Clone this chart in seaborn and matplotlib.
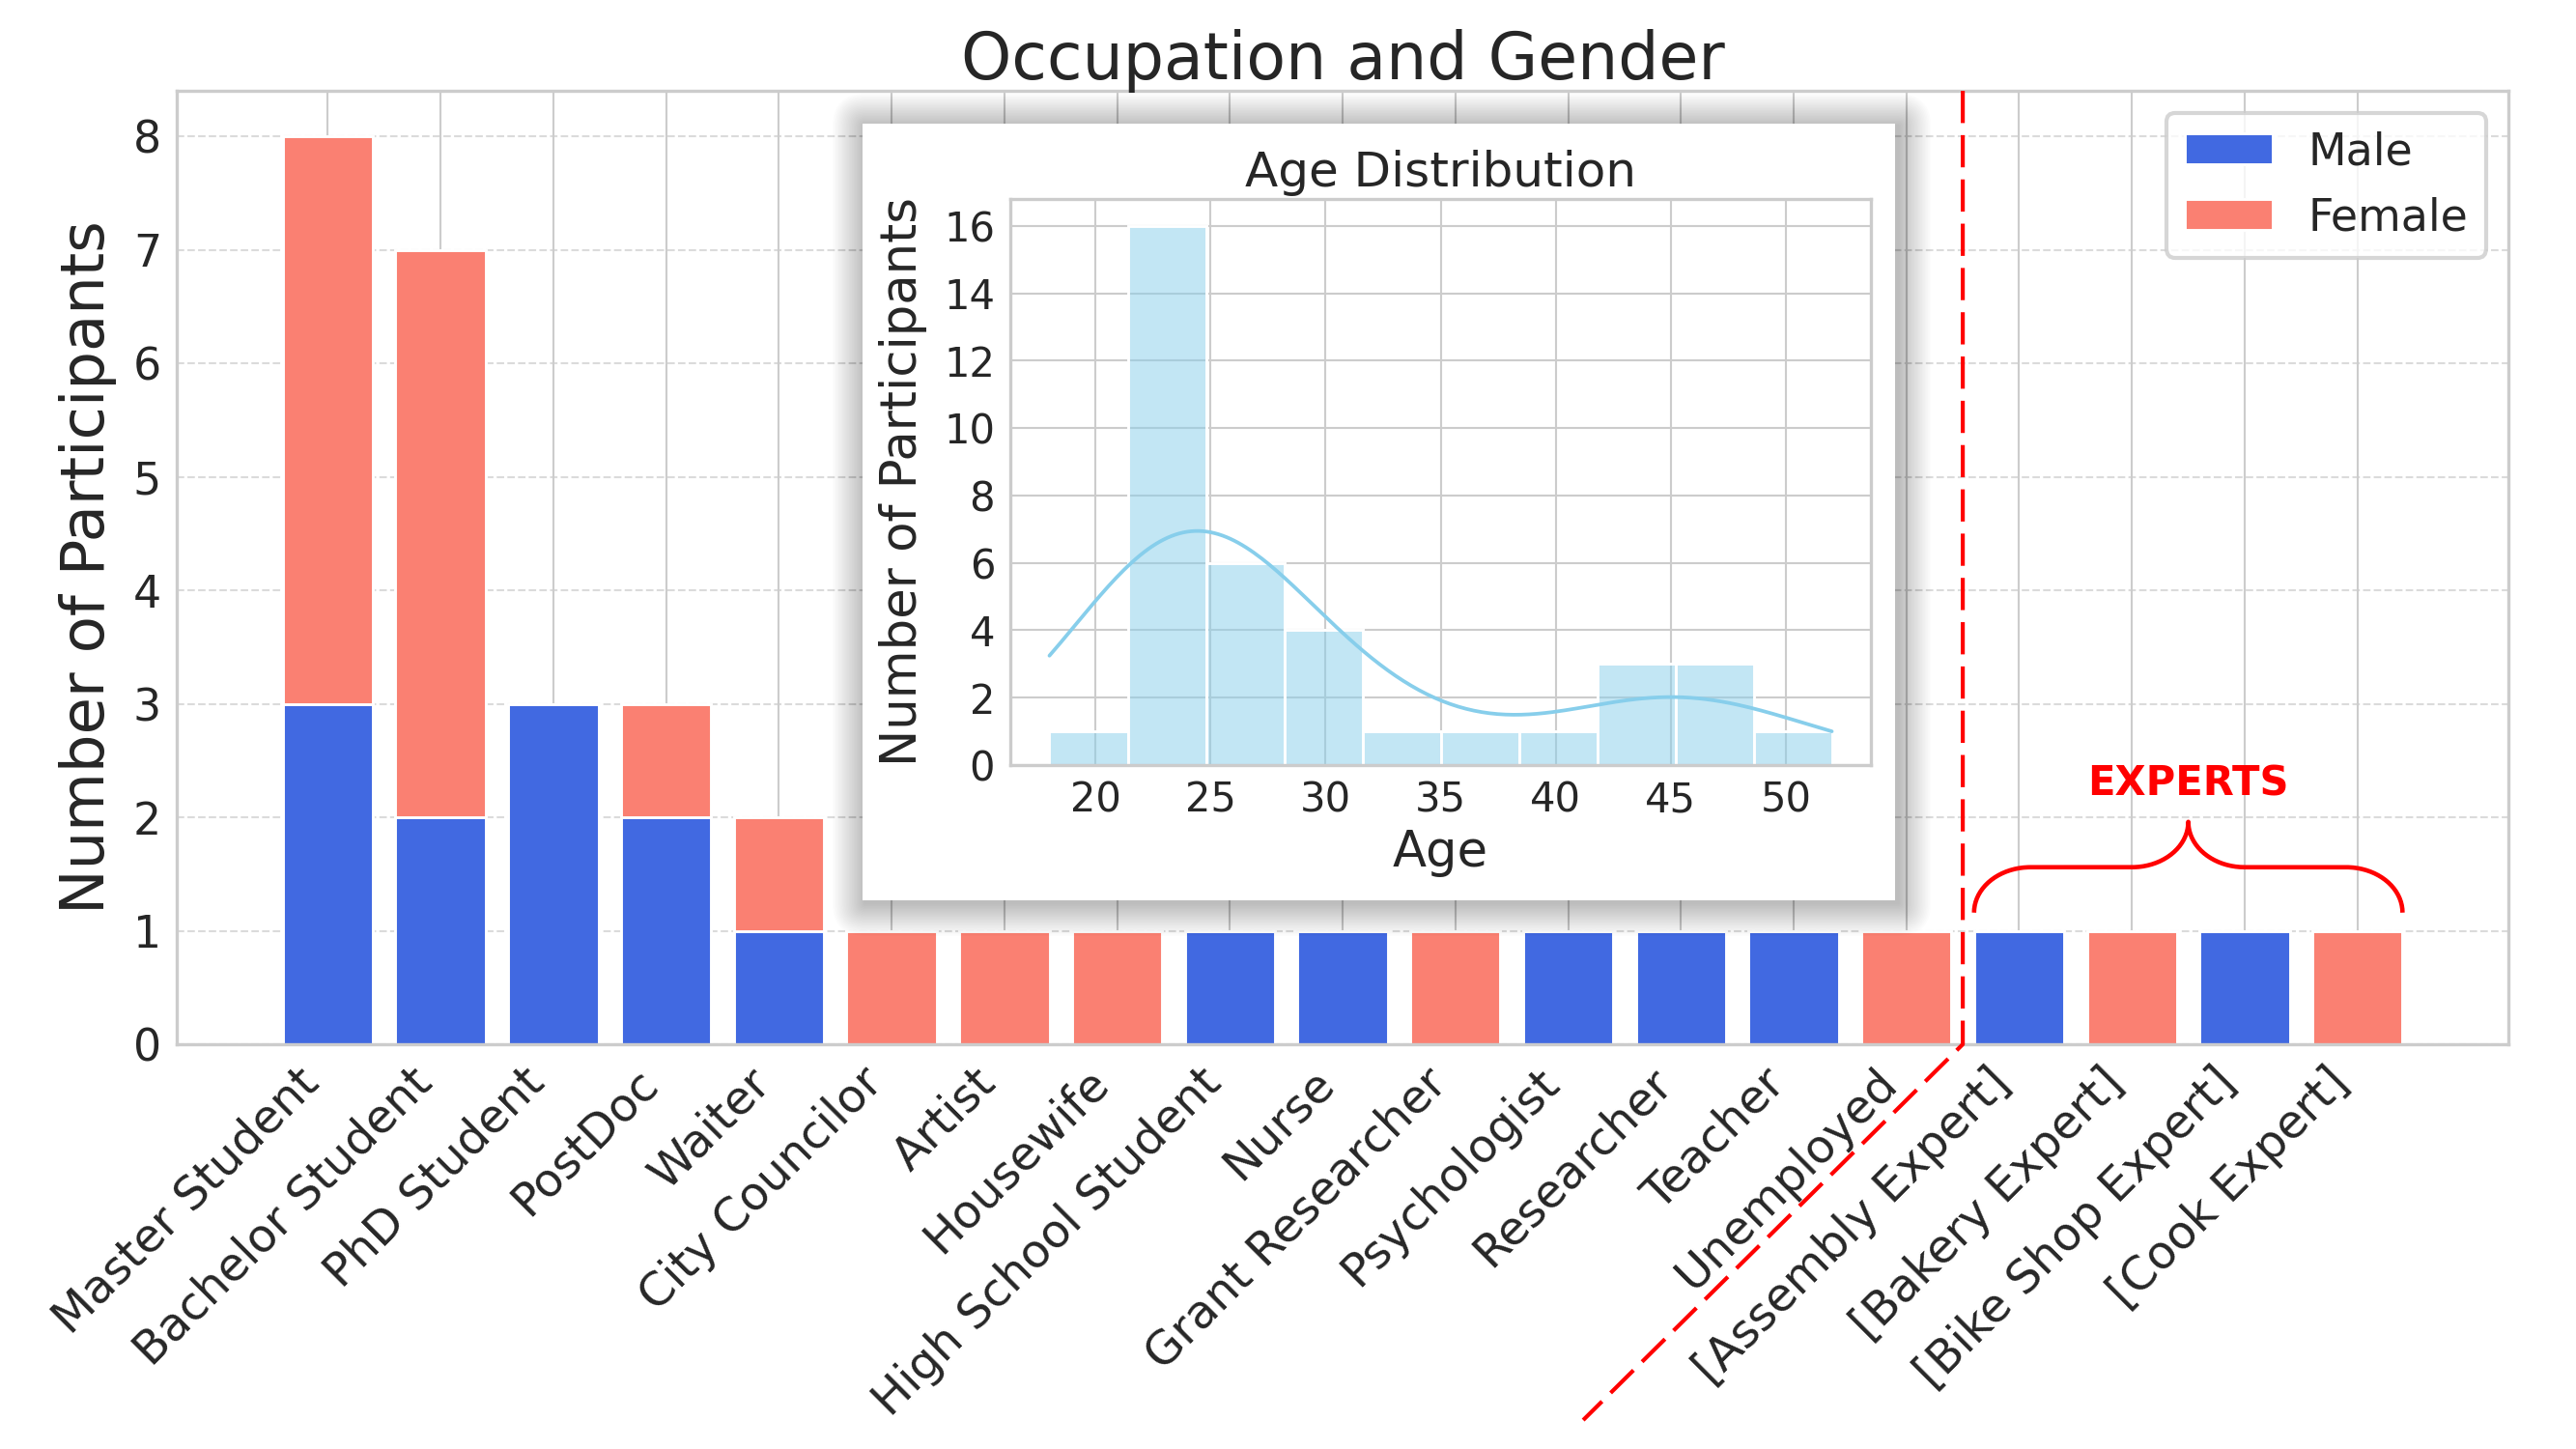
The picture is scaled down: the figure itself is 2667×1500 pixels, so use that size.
import numpy as np
import matplotlib
matplotlib.use("Agg")
import matplotlib.pyplot as plt
from matplotlib.ticker import MultipleLocator
import seaborn as sns
from matplotlib.patches import FancyBboxPatch, Rectangle

# ---------------- data ----------------
occupations = ["Master Student", "Bachelor Student", "PhD Student", "PostDoc", "Waiter",
               "City Councilor", "Artist", "Housewife", "High School Student", "Nurse",
               "Grant Researcher", "Psychologist", "Researcher", "Teacher", "Unemployed",
               "[Assembly Expert]", "[Bakery Expert]", "[Bike Shop Expert]", "[Cook Expert]"]
male_counts = [3, 2, 3, 2, 1, 0, 0, 0, 1, 1, 0, 1, 1, 1, 0, 1, 0, 1, 0]
female_counts = [5, 5, 0, 1, 1, 1, 1, 1, 0, 0, 1, 0, 0, 0, 1, 0, 1, 0, 1]
n_experts = 4

ages = [18,
        22, 22, 22, 22, 23, 23, 23, 23, 23, 23, 24, 24, 24, 24, 24, 24,
        25, 25, 26, 26, 27, 28,
        29, 30, 30, 31,
        32, 36, 41,
        43, 44, 45,
        46, 47, 48,
        52]

# ---------------- style ----------------
sns.set_theme(style="whitegrid", rc={
    "axes.linewidth": 0.8,
    "axes.edgecolor": ".8",
    "grid.color": ".8",
    "grid.linewidth": 0.5,
    "xtick.major.size": 0,
    "ytick.major.size": 0,
    "xtick.major.pad": 3.8,
    "ytick.major.pad": 3.8,
    "legend.frameon": True,
})
plt.rcParams["font.family"] = ["DejaVu Sans"]

W, H, DPI = 8.89, 5.0, 300
fig = plt.figure(figsize=(W, H), dpi=DPI)
ax = fig.add_axes([0.0686, 0.2793, 0.9052, 0.658], zorder=0)

x = np.arange(len(occupations))
ax.bar(x, male_counts, width=0.8, color="royalblue", edgecolor="white",
       linewidth=0.7, label="Male", zorder=2)
ax.bar(x, female_counts, width=0.8, bottom=male_counts, color="salmon",
       edgecolor="white", linewidth=0.7, label="Female", zorder=2)

ax.set_xticks(x)
ax.set_xticklabels(occupations, rotation=45, ha="right", fontsize=11.5)
ax.tick_params(axis="y", labelsize=11)
ax.set_ylabel("Number of Participants", fontsize=15)
ax.set_title("Occupation and Gender", fontsize=16, pad=3)
ax.grid(axis="y", linestyle="--", alpha=0.7, linewidth=0.5)
ax.grid(axis="x", linestyle="-", linewidth=0.5)
ax.set_axisbelow(True)
ax.legend(loc="upper right", fontsize=11)

# expert brace
first_exp = len(occupations) - n_experts
bx0, bx1 = first_exp - 0.4, len(occupations) - 1 + 0.4
xc = (bx0 + bx1) / 2
yb, ry, rx = 1.16, 0.40, 0.5
ym = yb + ry
yt = ym + ry
t = np.linspace(0, np.pi / 2, 40)
left_end = (bx0 + rx - rx * np.cos(t), yb + ry * np.sin(t))
left_tip = (xc - rx + rx * np.sin(t), yt - ry * np.cos(t))
bxs = np.concatenate([left_end[0], left_tip[0], (2 * xc - left_tip[0])[::-1], (2 * xc - left_end[0])[::-1]])
bys = np.concatenate([left_end[1], left_tip[1], left_tip[1][::-1], left_end[1][::-1]])
ax.plot(bxs, bys, color="red", lw=1.1, zorder=4, solid_capstyle="butt")
ax.text(xc, 2.19, "EXPERTS", color="red", fontsize=10, fontweight="bold",
        ha="center", va="baseline", zorder=4)

ax.set_xlim(ax.get_xlim())
ax.set_ylim(ax.get_ylim())

# separator line between regular occupations and experts
sep_x = first_exp - 0.5
p0 = ax.transData.transform((sep_x, 0))
p1 = p0 + np.array([-393.0, -389.0])
(a0x, a0y), (a1x, a1y) = ax.transAxes.inverted().transform([p0, p1])
ax.plot([a0x, a0x, a1x], [1.0, a0y, a1y], transform=ax.transAxes, clip_on=False,
        color="red", lw=1.0, linestyle=(0, (8, 3)), zorder=6)

# ---------------- inset panel with soft shadow ----------------
px0, py0, px1, py1 = 0.3348, 0.3787, 0.7357, 0.9147
pxi, pyi, pwi, phi = px0 * W, py0 * H, (px1 - px0) * W, (py1 - py0) * H
R = 34.0 / DPI
N = 22
off = 3.0 / DPI
for i in range(1, N + 1):
    d = R * i / N
    sh = FancyBboxPatch((pxi + off, pyi - off), pwi, phi,
                        boxstyle=f"round,pad={d},rounding_size={d}",
                        transform=fig.dpi_scale_trans, facecolor="black",
                        edgecolor="none", alpha=0.012, zorder=0.5)
    fig.add_artist(sh)
panel = Rectangle((pxi, pyi), pwi, phi, transform=fig.dpi_scale_trans,
                  facecolor="white", edgecolor="none", zorder=1)
fig.add_artist(panel)

axin = fig.add_axes([0.3922, 0.472, 0.3341, 0.3907], zorder=2)
sns.histplot(ages, bins=10, kde=True, color="skyblue", alpha=0.5,
             edgecolor="white", linewidth=0.7, ax=axin, line_kws={"linewidth": 0.9})
axin.set_title("Age Distribution", fontsize=12, pad=3)
axin.set_xlabel("Age", fontsize=12.3, labelpad=2)
axin.set_ylabel("Number of Participants", fontsize=12.3)
axin.xaxis.set_major_locator(MultipleLocator(5))
axin.yaxis.set_major_locator(MultipleLocator(2))
axin.tick_params(labelsize=10)
axin.grid(True, linewidth=0.5)

fig.savefig("out.png", dpi=DPI)
